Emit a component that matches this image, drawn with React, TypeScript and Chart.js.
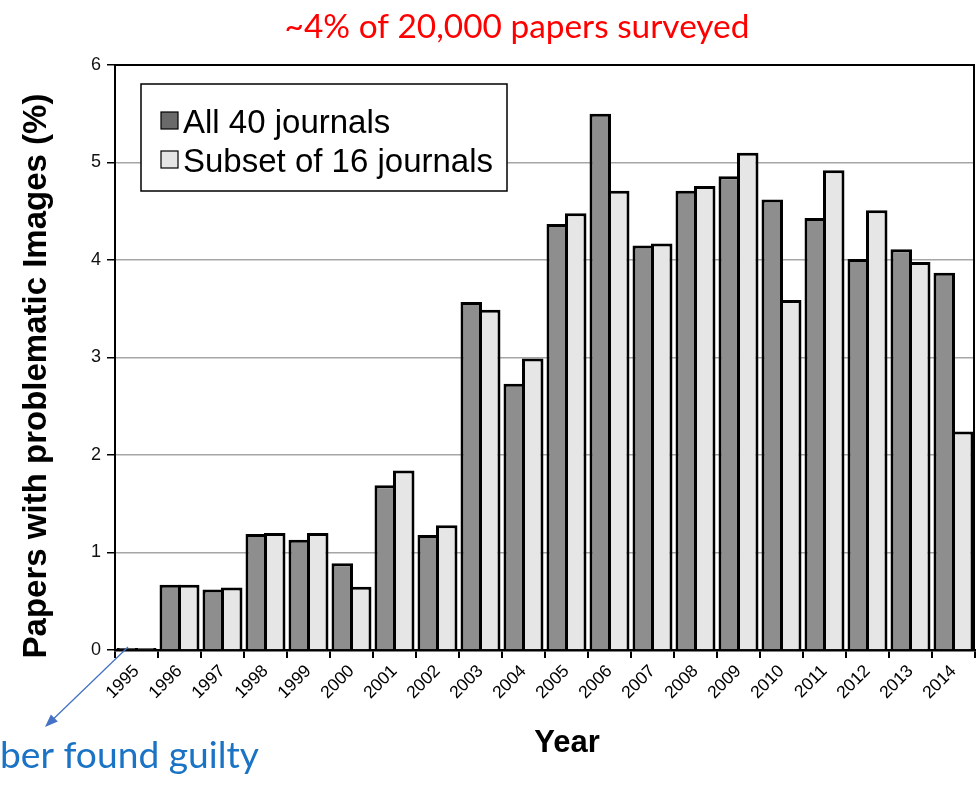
import React, { useEffect, useRef } from "react";
import { Chart, registerables } from "chart.js";

Chart.register(...registerables);

const years = [
  "1995", "1996", "1997", "1998", "1999", "2000", "2001", "2002", "2003", "2004",
  "2005", "2006", "2007", "2008", "2009", "2010", "2011", "2012", "2013", "2014",
];
const all40 = [
  0.02, 0.67, 0.62, 1.19, 1.13, 0.89, 1.69, 1.18, 3.57, 2.73,
  4.37, 5.5, 4.15, 4.71, 4.86, 4.62, 4.43, 4.01, 4.11, 3.87,
];
const subset16 = [
  0.02, 0.67, 0.64, 1.2, 1.2, 0.65, 1.84, 1.28, 3.49, 2.99,
  4.48, 4.71, 4.17, 4.76, 5.1, 3.59, 4.92, 4.51, 3.98, 2.24,
];
const seriesLabels = ["All 40 journals", "Subset of 16 journals"];
const yMin = 0;
const yMax = 6;
const yStep = 1;
const titleText = "~4% of 20,000 papers surveyed";
const yTitle = "Papers with problematic Images (%)";
const xTitle = "Year";
const noteText = "ber found guilty";

const DARK = "#8e8e8e";
const LIGHT = "#e6e6e6";
const SANS = "'Liberation Sans', Arial, sans-serif";
const CAL = "Lato, 'Open Sans', sans-serif";

function fitFont(ctx: CanvasRenderingContext2D, text: string, family: string, weight: string, width: number) {
  ctx.font = `${weight} 100px ${family}`;
  const w = ctx.measureText(text).width;
  const size = (100 * width) / w;
  ctx.font = `${weight} ${size}px ${family}`;
  return size;
}

const extras = {
  id: "extras",
  afterDatasetsDraw(chart: any) {
    const { ctx, chartArea: a } = chart;
    ctx.save();
    // frame (top + right)
    ctx.strokeStyle = "#000";
    ctx.lineWidth = 2;
    ctx.beginPath();
    ctx.moveTo(a.left, a.top);
    ctx.lineTo(a.right - 1, a.top);
    ctx.lineTo(a.right - 1, a.bottom);
    ctx.stroke();

    // legend
    const ds = chart.data.datasets;
    ctx.fillStyle = "#fff";
    ctx.fillRect(141, 84, 366, 107);
    ctx.lineWidth = 1.5;
    ctx.strokeStyle = "#000";
    ctx.strokeRect(141, 84, 366, 107);
    const rows = [133, 172];
    ds.forEach((d: any, i: number) => {
      const by = rows[i];
      ctx.fillStyle = i === 0 ? "#6a6a6a" : d.backgroundColor;
      ctx.fillRect(161, by - 21, 17, 17);
      ctx.lineWidth = 1.2;
      ctx.strokeStyle = "#000";
      ctx.strokeRect(161, by - 21, 17, 17);
      ctx.fillStyle = "#000";
      ctx.font = `33px ${SANS}`;
      ctx.textAlign = "left";
      ctx.textBaseline = "alphabetic";
      ctx.fillText(d.label, 183, by);
    });

    // red title
    ctx.fillStyle = "#ff0000";
    fitFont(ctx, titleText, CAL, "normal", 465);
    ctx.textAlign = "center";
    ctx.textBaseline = "alphabetic";
    ctx.fillText(titleText, 517, 38);

    // y title
    ctx.save();
    ctx.translate(46, 376);
    ctx.rotate(-Math.PI / 2);
    ctx.fillStyle = "#000";
    ctx.font = `bold 33px ${SANS}`;
    ctx.textAlign = "center";
    ctx.textBaseline = "alphabetic";
    ctx.fillText(yTitle, 0, 0);
    ctx.restore();

    // x title
    ctx.fillStyle = "#000";
    ctx.font = `bold 31px ${SANS}`;
    ctx.textAlign = "center";
    ctx.textBaseline = "alphabetic";
    ctx.fillText(xTitle, 567, 752);

    // note + arrow
    ctx.fillStyle = "#1a73c4";
    fitFont(ctx, noteText, CAL, "normal", 259);
    ctx.textAlign = "left";
    ctx.fillText(noteText, 0, 768);

    const x0 = 128, y0 = 647, x1 = 45, y1 = 727;
    const ang = Math.atan2(y1 - y0, x1 - x0);
    ctx.strokeStyle = "#4472c4";
    ctx.fillStyle = "#4472c4";
    ctx.lineWidth = 1.3;
    ctx.beginPath();
    ctx.moveTo(x0, y0);
    ctx.lineTo(x1 - 8 * Math.cos(ang), y1 - 8 * Math.sin(ang));
    ctx.stroke();
    ctx.beginPath();
    ctx.moveTo(x1, y1);
    ctx.lineTo(x1 - 13 * Math.cos(ang) + 5 * Math.sin(ang), y1 - 13 * Math.sin(ang) - 5 * Math.cos(ang));
    ctx.lineTo(x1 - 13 * Math.cos(ang) - 5 * Math.sin(ang), y1 - 13 * Math.sin(ang) + 5 * Math.cos(ang));
    ctx.closePath();
    ctx.fill();
    ctx.restore();
  },
};

export default function App() {
  const ref = useRef<HTMLCanvasElement | null>(null);
  useEffect(() => {
    document.body.style.margin = "0";
    const canvas = ref.current;
    if (!canvas) return;
    const chart = new Chart(canvas, {
      type: "bar",
      data: {
        labels: years,
        datasets: [
          {
            label: seriesLabels[0],
            data: all40,
            backgroundColor: DARK,
            borderColor: "#000",
            borderWidth: 3,
            barPercentage: 1.162,
            categoryPercentage: 0.86,
          },
          {
            label: seriesLabels[1],
            data: subset16,
            backgroundColor: LIGHT,
            borderColor: "#000",
            borderWidth: 3,
            barPercentage: 1.162,
            categoryPercentage: 0.86,
          },
        ],
      },
      options: {
        animation: false,
        responsive: false,
        layout: { padding: { top: 65, right: 2, left: 0, bottom: 0 } },
        plugins: {
          legend: { display: false },
          title: { display: false },
          tooltip: { enabled: false },
        },
        scales: {
          x: {
            afterFit: (s: any) => {
              s.height = 135;
            },
            grid: {
              offset: true,
              drawOnChartArea: false,
              tickLength: 8,
              color: "#000",
              lineWidth: 2,
            },
            border: { display: true, color: "#000", width: 2.5 },
            ticks: {
              autoSkip: false,
              minRotation: 45,
              maxRotation: 45,
              padding: 3,
              color: "#000",
              font: { family: SANS, size: 17.5 },
            },
          },
          y: {
            min: yMin,
            max: yMax,
            afterFit: (s: any) => {
              s.width = 115;
            },
            grid: {
              color: "#a6a6a6",
              lineWidth: 1.5,
              tickColor: "#000",
              tickLength: 8,
            },
            border: { display: true, color: "#000", width: 2 },
            ticks: {
              stepSize: yStep,
              padding: 6,
              color: "#111",
              font: { family: SANS, size: 18 },
            },
          },
        },
      },
      plugins: [extras],
    });
    return () => chart.destroy();
  }, []);
  return (
    <div style={{ position: "absolute", left: 0, top: 0, width: 977, height: 785, background: "#fff" }}>
      <canvas ref={ref} width={977} height={785} />
    </div>
  );
}
